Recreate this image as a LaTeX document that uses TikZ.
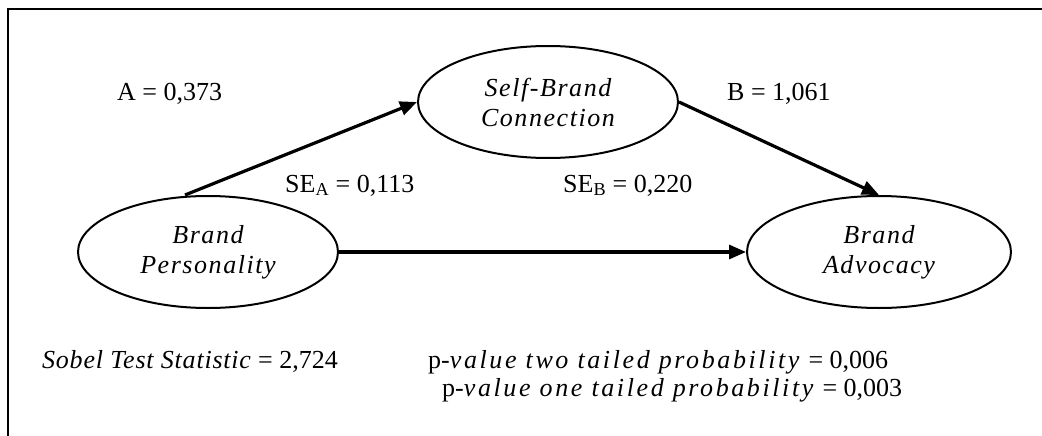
\documentclass[tikz,border=0pt]{standalone}
\usepackage{fontspec}
\setmainfont{Liberation Serif}
\usetikzlibrary{shapes.geometric,arrows.meta}
\newcommand{\wideit}[2]{\textit{\addfontfeature{LetterSpace=#1}#2}}
\begin{document}
\begin{tikzpicture}[x=1pt,y=-1pt,
  construct/.style={ellipse,draw,line width=2pt,minimum width=260pt,minimum height=112pt,
    inner sep=0pt,align=center,
    font=\fontsize{26}{30}\selectfont\itshape\addfontfeature{LetterSpace=6}},
  effect/.style={line width=3.2pt,-{Triangle[length=17pt,width=14pt]}},
  lbl/.style={inner sep=0pt,anchor=base west,font=\fontsize{26}{30}\selectfont}]
\useasboundingbox (0,0) rectangle (1042,436);
% open frame: top and left rules
\draw[line width=2.5pt] (8,436) -- (8,9) -- (1042,9);
% constructs
\node[construct] (sbc) at (548,102) {Self-Brand\\Connection};
\node[construct] (bp) at (208,252) {Brand\\Personality};
\node[construct,minimum width=264pt] (ba) at (879,252) {Brand\\Advocacy};
% paths
\draw[effect] ([xshift=-23pt]bp.north) -- (sbc.west);
\draw[effect] (sbc.east) -- (ba.north);
\draw[effect] (bp.east) -- (ba.west);
% coefficients
\node[lbl] (la) at (117,100) {A = 0,373};
\node[lbl] (lb) at (727,100) {B = 1,061};
\node[lbl] (sea) at (285,192) {SE\textsubscript{A} = 0,113};
\node[lbl] (seb) at (563,192) {SE\textsubscript{B} = 0,220};
% test results
\node[lbl] (sobel) at (42,368) {\wideit{3}{Sobel Test Statistic} = 2,724};
\node[lbl] (ptwo) at (428,368) {p-\wideit{10}{value two tailed probability} = 0,006};
\node[lbl] (pone) at (442,396) {p-\wideit{10}{value one tailed probability} = 0,003};
\end{tikzpicture}
\end{document}
